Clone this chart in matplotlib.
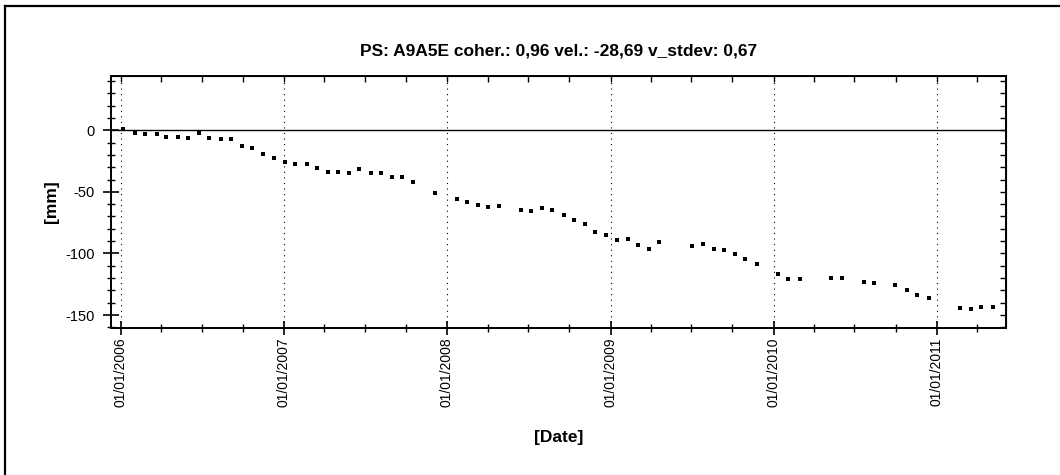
import numpy as np
import pandas as pd
import matplotlib
matplotlib.use('Agg')
import matplotlib.pyplot as plt
from matplotlib import dates as mdates
from matplotlib import ticker as mticker
from matplotlib.lines import Line2D

plt.rcParams['font.family'] = ['Liberation Sans', 'DejaVu Sans']
plt.rcParams['axes.unicode_minus'] = False

title = 'PS: A9A5E coher.: 0,96 vel.: -28,69 v_stdev: 0,67'

# acquisition dates and displacement [mm]
dates = [
    '2006-01-06', '2006-02-02', '2006-02-25', '2006-03-22', '2006-04-13', '2006-05-09',
    '2006-05-31', '2006-06-25', '2006-07-18', '2006-08-13', '2006-09-05', '2006-09-30',
    '2006-10-22', '2006-11-16', '2006-12-09', '2007-01-04', '2007-01-26', '2007-02-21',
    '2007-03-15', '2007-04-10', '2007-05-03', '2007-05-27', '2007-06-19', '2007-07-15',
    '2007-08-07', '2007-08-31', '2007-09-23', '2007-10-18', '2007-12-06', '2008-01-23',
    '2008-02-14', '2008-03-11', '2008-04-02', '2008-04-27', '2008-06-15', '2008-07-07',
    '2008-08-01', '2008-08-24', '2008-09-18', '2008-10-11', '2008-11-05', '2008-11-28',
    '2008-12-23', '2009-01-15', '2009-02-09', '2009-03-04', '2009-03-29', '2009-04-20',
    '2009-07-03', '2009-07-26', '2009-08-20', '2009-09-12', '2009-10-07', '2009-10-30',
    '2009-11-25', '2010-01-11', '2010-02-03', '2010-02-28', '2010-05-10', '2010-06-04',
    '2010-07-22', '2010-08-14', '2010-09-30', '2010-10-26', '2010-11-18', '2010-12-14',
    '2011-02-22', '2011-03-19', '2011-04-11', '2011-05-07',
]
disp = [
    0.8, -1.9, -3.0, -3.0, -5.1, -5.1,
    -6.2, -1.9, -6.2, -7.3, -7.3, -13.2,
    -14.3, -19.4, -22.4, -25.7, -27.8, -27.8,
    -30.8, -33.8, -33.8, -34.8, -31.6, -34.8,
    -34.8, -37.8, -37.8, -41.9, -51.1, -56.2,
    -58.3, -60.5, -62.4, -61.3, -64.6, -65.6,
    -63.5, -64.6, -68.6, -72.7, -75.9, -82.9,
    -85.1, -89.1, -88.1, -93.2, -96.4, -91.0,
    -94.3, -92.1, -96.4, -97.2, -100.5, -104.5,
    -108.6, -116.7, -120.7, -120.7, -119.9, -119.9,
    -122.9, -123.7, -125.9, -129.9, -134.0, -136.1,
    -144.2, -145.3, -143.2, -143.2,
]

xmin, xmax = '2005-12-10', '2011-06-05'
ymin, ymax = -160.5, 44


def main():
    t = pd.to_datetime(dates)

    fig = plt.figure(figsize=(10.6, 4.75), dpi=100, facecolor='white')
    ax = fig.add_axes([0.1047, 0.3095, 0.8443, 0.5305])

    # outer frame, only top and left edges fall inside the image
    fig.add_artist(Line2D([0.0047, 0.0047], [0, 0.9874], transform=fig.transFigure, color='black', lw=1.6))
    fig.add_artist(Line2D([0.0047, 1.0], [0.9874, 0.9874], transform=fig.transFigure, color='black', lw=1.6))

    ax.axhline(0, color='black', lw=1.0, zorder=1)
    ax.plot(t, disp, 's', color='black', ms=3.0, mew=0, zorder=3)

    ax.set_xlim(pd.Timestamp(xmin), pd.Timestamp(xmax))
    ax.set_ylim(ymin, ymax)

    ax.xaxis.set_major_locator(mdates.YearLocator())
    ax.xaxis.set_major_formatter(mdates.DateFormatter('%d/%m/%Y'))
    ax.xaxis.set_minor_locator(mdates.MonthLocator(bymonth=[4, 7, 10]))
    ax.yaxis.set_major_locator(mticker.MultipleLocator(50))
    ax.yaxis.set_minor_locator(mticker.MultipleLocator(10))

    ax.grid(True, axis='x', which='major', color='black', linestyle=(0, (1, 4)), lw=0.8)

    for s in ax.spines.values():
        s.set_linewidth(1.4)
    ax.tick_params(axis='x', which='major', direction='inout', length=10, width=1.2,
                   labelsize=10, labelrotation=90, pad=2)
    ax.tick_params(axis='x', which='minor', direction='inout', length=6, width=1.0)
    ax.tick_params(axis='y', which='major', direction='inout', length=11, width=1.2,
                   labelsize=10.5, pad=6)
    ax.tick_params(axis='y', which='minor', direction='inout', length=6, width=1.0)
    for lab in ax.get_xticklabels():
        lab.set_verticalalignment('top')

    # short inward ticks on top and right
    axt = ax.secondary_xaxis('top')
    axt.xaxis.set_major_locator(mdates.YearLocator())
    axt.xaxis.set_minor_locator(mdates.MonthLocator(bymonth=[4, 7, 10]))
    axt.tick_params(which='both', direction='in', length=4, width=1.0, labeltop=False)
    axr = ax.secondary_yaxis('right')
    axr.yaxis.set_major_locator(mticker.MultipleLocator(50))
    axr.yaxis.set_minor_locator(mticker.MultipleLocator(10))
    axr.tick_params(which='both', direction='in', length=4, width=1.0, labelright=False)

    ax.set_title(title, fontsize=12.5, fontweight='bold', pad=15)
    ax.set_ylabel('[mm]', fontsize=12.5, fontweight='bold', labelpad=5)
    ax.set_xlabel('[Date]', fontsize=12.5, fontweight='bold', labelpad=16)

    fig.savefig('out.png', dpi=100, facecolor='white')


if __name__ == "__main__":
    main()
